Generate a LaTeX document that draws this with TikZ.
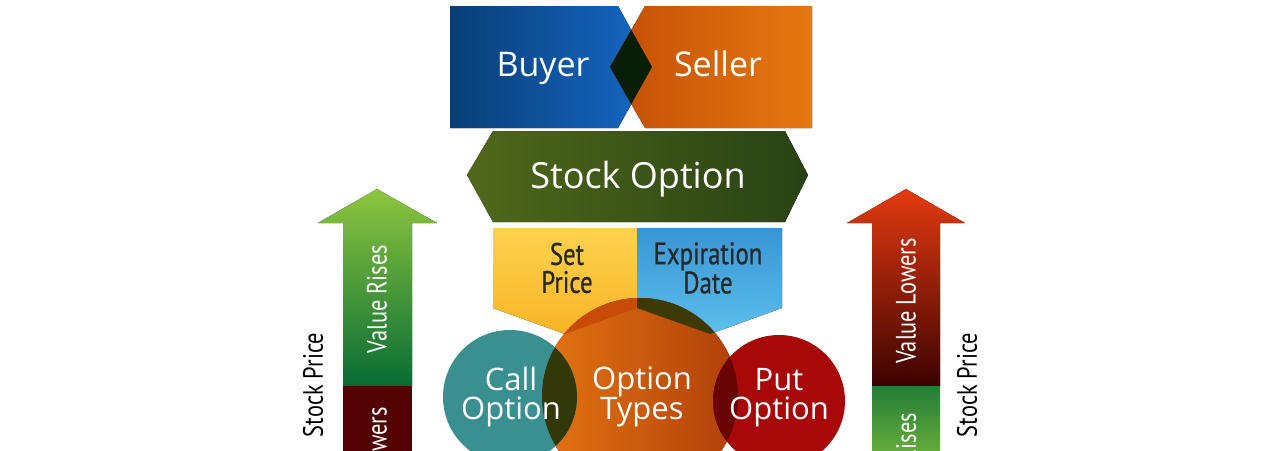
\documentclass[tikz,border=0pt]{standalone}
\usepackage{fontspec}
\setmainfont{Open Sans}
\newfontfamily\narrowfont[FakeStretch=0.8]{PT Sans}
\newfontfamily\pricefont[FakeStretch=0.8,FakeBold=0.7]{PT Sans}

\definecolor{buyerdark}{RGB}{8,62,118}
\definecolor{buyerlight}{RGB}{22,104,198}
\definecolor{sellerdark}{RGB}{196,78,6}
\definecolor{sellerlight}{RGB}{230,120,16}
\definecolor{crossdark}{RGB}{8,30,6}
\definecolor{stocklight}{RGB}{80,104,26}
\definecolor{stockdark}{RGB}{40,66,20}
\definecolor{priceyellow}{RGB}{248,180,38}
\definecolor{priceyellowlight}{RGB}{254,210,78}
\definecolor{dateblue}{RGB}{56,148,212}
\definecolor{datebluelight}{RGB}{92,192,236}
\definecolor{callteal}{RGB}{58,143,145}
\definecolor{typeslight}{RGB}{228,116,18}
\definecolor{typesdark}{RGB}{176,64,8}
\definecolor{putred}{RGB}{168,8,8}
\definecolor{pricemix}{RGB}{200,75,8}
\definecolor{datemix}{RGB}{62,58,8}
\definecolor{callmix}{RGB}{50,56,8}
\definecolor{putmix}{RGB}{104,4,4}
\definecolor{riselight}{RGB}{141,198,63}
\definecolor{risedark}{RGB}{8,108,52}
\definecolor{lowerlight}{RGB}{228,58,16}
\definecolor{lowerdark}{RGB}{60,2,0}
\definecolor{textdark}{RGB}{40,40,40}

\begin{document}
\begin{tikzpicture}[x=1pt, y=-1pt,
  every node/.style={inner sep=0pt},
  bigtext/.style={text=white, anchor=base, font=\fontsize{34}{40}\selectfont},
  circletext/.style={text=white, align=center, font=\fontsize{31}{29}\selectfont},
  pricetext/.style={text=textdark, align=center, font=\pricefont\fontsize{31}{28}\selectfont},
  arrowtext/.style={text=white, rotate=90, font=\narrowfont\fontsize{28}{30}\selectfont},
  axistext/.style={text=black, rotate=90, font=\narrowfont\fontsize{28}{30}\selectfont}]
\useasboundingbox (0,0) rectangle (1280,450);
\clip (0,0) rectangle (1280,450);

% buyer and seller
\fill[left color=buyerdark, right color=buyerlight] (450,6) -- (618,6) -- (652,67) -- (618,128) -- (450,128) -- cycle;
\fill[left color=sellerdark, right color=sellerlight] (812,6) -- (645,6) -- (610,67) -- (645,128) -- (812,128) -- cycle;
\begin{scope}
  \clip (450,6) -- (618,6) -- (652,67) -- (618,128) -- (450,128) -- cycle;
  \fill[crossdark] (812,6) -- (645,6) -- (610,67) -- (645,128) -- (812,128) -- cycle;
\end{scope}
\node[bigtext] (buyer) at (543,76) {Buyer};
\node[bigtext] (seller) at (718,76) {Seller};

% stock option
\fill[left color=stocklight, right color=stockdark] (467,175) -- (493,131) -- (785,131) -- (808,175) -- (785,222) -- (493,222) -- cycle;
\node[bigtext, font=\fontsize{36}{40}\selectfont] (stock) at (638,188) {Stock Option};

% set price / expiration date
\fill[top color=priceyellowlight, bottom color=priceyellow] (493,228) -- (637,228) -- (637,308) -- (565,334) -- (493,308) -- cycle;
\fill[top color=dateblue, bottom color=datebluelight] (637,228) -- (782,228) -- (782,308) -- (710,334) -- (637,308) -- cycle;
\node[pricetext] (price) at (567,268) {Set\\Price};
\node[pricetext] (expiry) at (708,268) {Expiration\\Date};

% option circles
\fill[left color=typeslight, right color=typesdark] (640,396) circle[radius=98];
\fill[callteal] (510,397) circle[radius=67];
\fill[putred] (779,401) circle[radius=66];
\begin{scope}
  \clip (640,396) circle[radius=98];
  \fill[pricemix] (493,228) -- (637,228) -- (637,308) -- (565,334) -- (493,308) -- cycle;
  \fill[datemix] (637,228) -- (782,228) -- (782,308) -- (710,334) -- (637,308) -- cycle;
  \fill[callmix] (510,397) circle[radius=67];
  \fill[putmix] (779,401) circle[radius=66];
\end{scope}
\node[circletext] (call) at (511,397) {Call\\Option};
\node[circletext] (types) at (642,397) {Option\\Types};
\node[circletext] (put) at (779,398) {Put\\Option};

% rising arrow
\fill[top color=riselight, bottom color=risedark] (377,189) -- (437,223) -- (412,223) -- (412,386) -- (343,386) -- (343,223) -- (318,223) -- cycle;
\fill[lowerdark!80!putred] (343,386) rectangle (412,452);
\node[arrowtext] (rises) at (377,299) {Value Rises};
\node[arrowtext] (lowersleft) at (377,470) {Value Lowers};
\node[axistext] (priceleft) at (313,385) {Stock Price};

% lowering arrow
\fill[top color=lowerlight, bottom color=lowerdark] (906,189) -- (965,223) -- (940,223) -- (940,386) -- (872,386) -- (872,223) -- (847,223) -- cycle;
\fill[top color=risedark!80!riselight, bottom color=riselight!70!risedark] (872,386) rectangle (940,452);
\node[arrowtext] (lowers) at (906,301) {Value Lowers};
\node[arrowtext] (risesright) at (906,467) {Value Rises};
\node[axistext] (priceright) at (967,385) {Stock Price};
\end{tikzpicture}
\end{document}
